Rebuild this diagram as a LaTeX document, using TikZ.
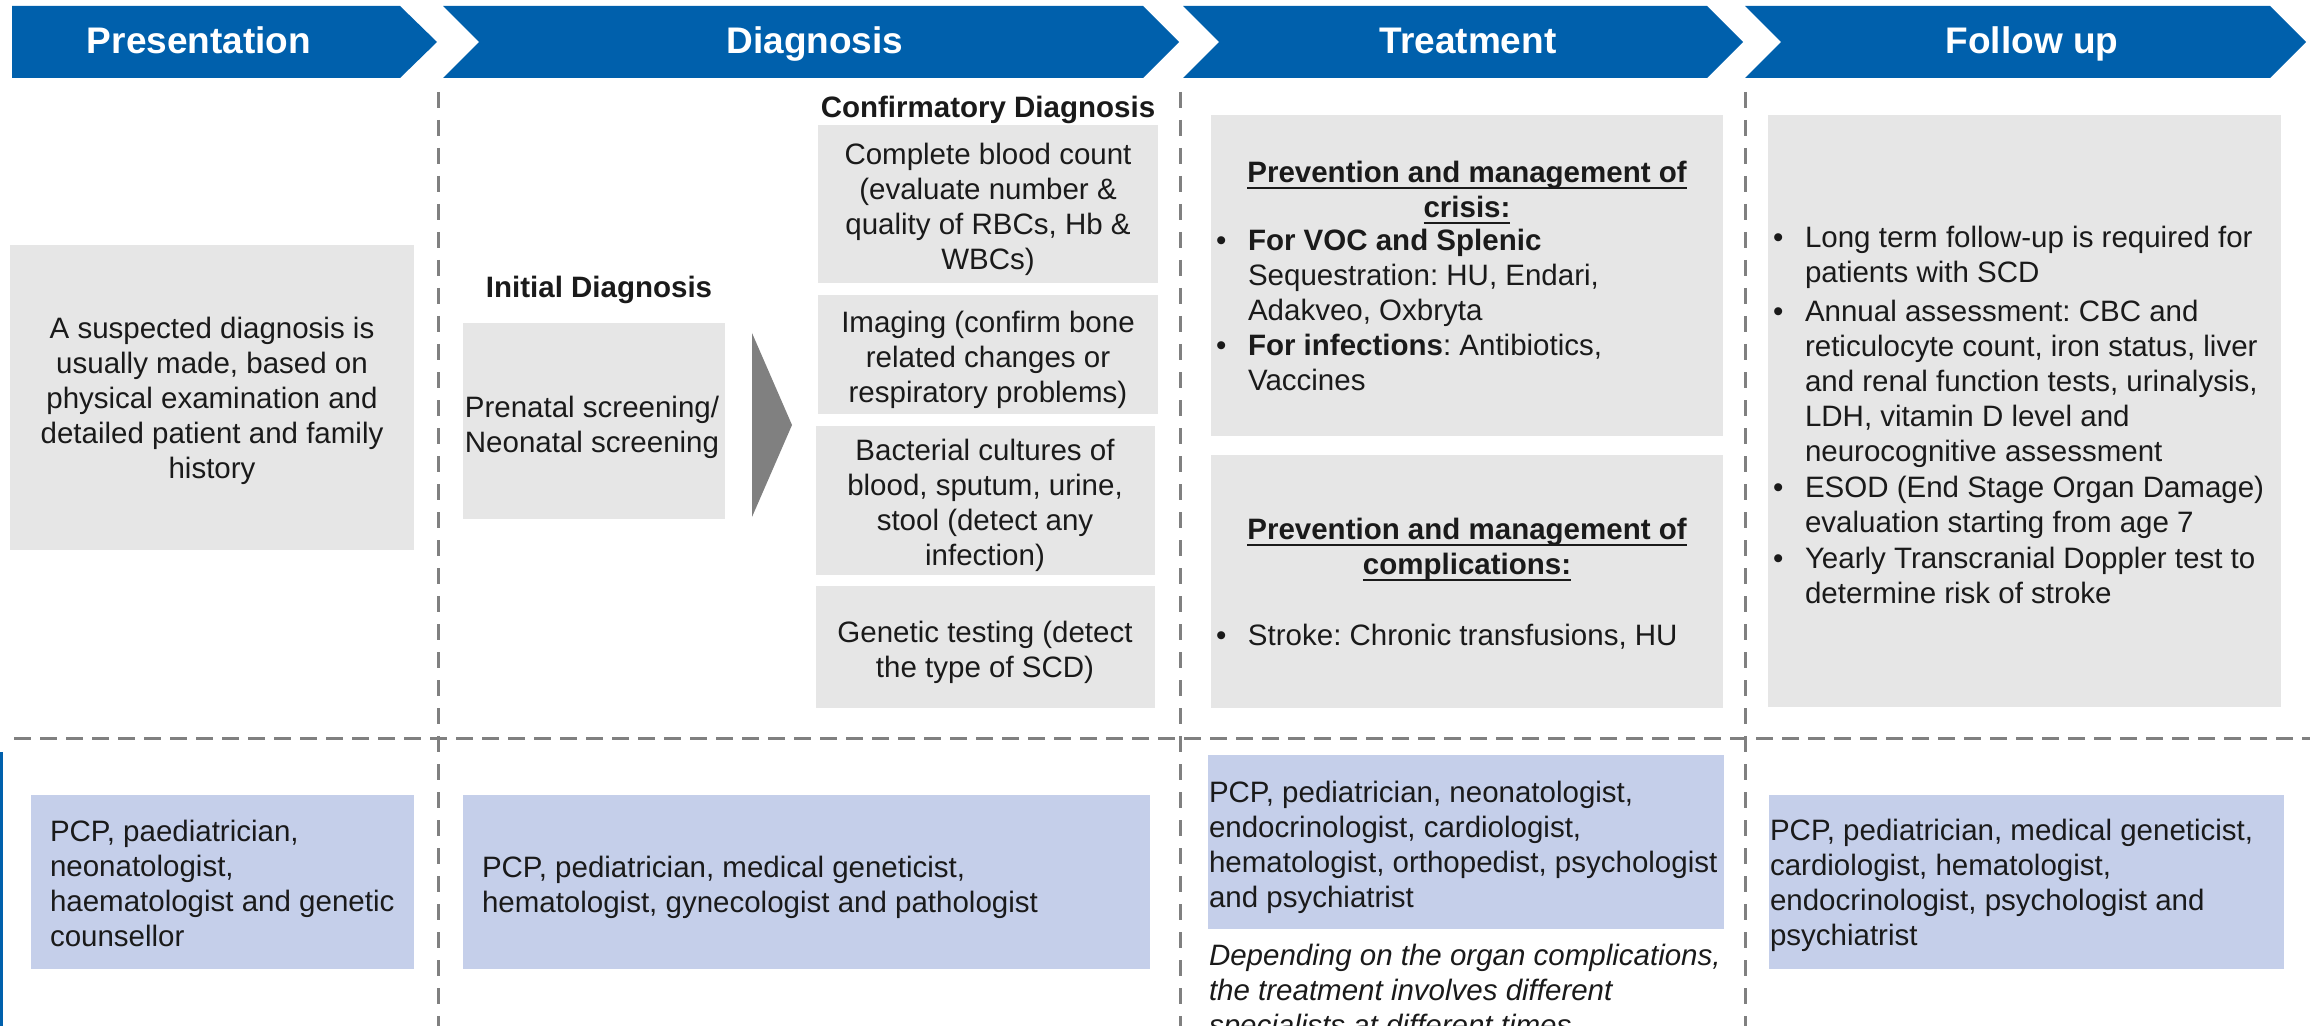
\documentclass[tikz,border=0pt]{standalone}
\usepackage{fontspec}
\setmainfont{Liberation Sans}
\usetikzlibrary{fit}
\definecolor{hblue}{HTML}{0060AC}
\definecolor{boxgray}{HTML}{E6E6E6}
\definecolor{boxblue}{HTML}{C5CFEA}
\definecolor{dashgray}{HTML}{808080}
\definecolor{arrowgray}{HTML}{808080}
\definecolor{txtc}{HTML}{1A1A1A}
\newcommand\myBody{\fontsize{14.75}{17.5}\selectfont}
\newcommand\myHdr{\fontsize{18.5}{22}\selectfont\bfseries}
\newlength\myulw
\newcommand\myul[1]{\settowidth\myulw{#1}\rlap{\rule[-3.3pt]{\myulw}{1.1pt}}#1}
\frenchspacing
\begin{document}
\frenchspacing
\begin{tikzpicture}[x=0.5pt,y=-0.5pt,
  every node/.style={inner sep=0pt, outer sep=0pt},
  chev/.style={fill=hblue},
  hdr/.style={text=white, font=\myHdr, anchor=base},
  gbox/.style={fill=boxgray, draw=none, inner sep=0pt},
  bbox/.style={fill=boxblue, draw=none, inner sep=0pt},
  txt/.style={font=\myBody, text=txtc, align=center, anchor=north},
  ltxt/.style={font=\myBody, text=txtc, align=left, anchor=north west},
  vdash/.style={draw=dashgray, line width=1.5pt, dash pattern=on 8pt off 6pt},
  hdash/.style={draw=dashgray, line width=1.5pt, dash pattern=on 8.5pt off 4.5pt}]
\useasboundingbox (0,0) rectangle (2310,1026);

% chevrons
\fill[chev] (12,6) -- (400,6) -- (437,42) -- (400,78) -- (12,78) -- cycle;
\fill[chev] (443,6) -- (1143,6) -- (1179,42) -- (1143,78) -- (443,78) -- (479,42) -- cycle;
\fill[chev] (1183,6) -- (1707,6) -- (1743,42) -- (1707,78) -- (1183,78) -- (1219,42) -- cycle;
\fill[chev] (1745,6) -- (2270,6) -- (2306,42) -- (2270,78) -- (1745,78) -- (1781,42) -- cycle;
\node[hdr] (h1) at (199,54) {Presentation};
\node[hdr] (h2) at (815,54) {Diagnosis};
\node[hdr] (h3) at (1468,54) {Treatment};
\node[hdr] (h4) at (2032,54) {Follow up};

% separators
\draw[vdash] (438,92) -- (438,1026);
\draw[vdash] (1180,92) -- (1180,1026);
\draw[vdash] (1745,92) -- (1745,1026);
\draw[hdash] (14,738) -- (2310,738);
\draw[hblue, line width=1.5pt] (1.5,752) -- (1.5,1026);

% presentation
\node[gbox, fit={(10,245) (414,550)}] (pbox) {};
\node[txt] (ptxt) at (212,317) {A suspected diagnosis is\\usually made, based on\\physical examination and\\detailed patient and family\\history};

% diagnosis
\node[txt, font=\myBody\bfseries] (initlab) at (599,276) {Initial Diagnosis};
\node[gbox, fit={(463,323) (725,519)}] (prenat) {};
\node[txt] (prenattxt) at (592,396) {Prenatal screening/\\Neonatal screening};
\fill[arrowgray] (752,333) -- (792,425) -- (752,517) -- cycle;

\node[txt, font=\myBody\bfseries] (conflab) at (988,96) {Confirmatory Diagnosis};
\node[gbox, fit={(818,125) (1158,283)}] (c1) {};
\node[gbox, fit={(818,295) (1158,414)}] (c2) {};
\node[gbox, fit={(816,426) (1155,575)}] (c3) {};
\node[gbox, fit={(816,586) (1155,708)}] (c4) {};
\node[txt] (c1t) at (988,143) {Complete blood count\\(evaluate number \&\\quality of RBCs, Hb \&\\WBCs)};
\node[txt] (c2t) at (988,311) {Imaging (confirm bone\\related changes or\\respiratory problems)};
\node[txt] (c3t) at (985,439) {Bacterial cultures of\\blood, sputum, urine,\\stool (detect any\\infection)};
\node[txt] (c4t) at (985,621) {Genetic testing (detect\\the type of SCD)};

% treatment
\node[gbox, fit={(1211,115) (1723,436)}] (t1) {};
\node[gbox, fit={(1211,455) (1723,708)}] (t2) {};
\node[txt, font=\myBody\bfseries] (t1h) at (1467,161) {\myul{Prevention and management of}\\\myul{crisis:}};
\node[ltxt] (t1b) at (1216,229) {\makebox[16pt][l]{•}\textbf{For VOC and Splenic}\\
\hspace*{16pt}Sequestration: HU, Endari,\\
\hspace*{16pt}Adakveo, Oxbryta\\
\makebox[16pt][l]{•}\textbf{For infections}: Antibiotics,\\
\hspace*{16pt}Vaccines};
\node[txt, font=\myBody\bfseries] (t2h) at (1467,518) {\myul{Prevention and management of}\\\myul{complications:}};
\node[ltxt] (t2b) at (1216,624) {\makebox[16pt][l]{•}Stroke: Chronic transfusions, HU};

% follow up
\node[gbox, fit={(1768,115) (2281,707)}] (fbox) {};
\node[ltxt] (fb) at (1773,226) {\makebox[16pt][l]{•}Long term follow-up is required for\\
\hspace*{16pt}patients with SCD\\[2pt]
\makebox[16pt][l]{•}Annual assessment: CBC and\\
\hspace*{16pt}reticulocyte count, iron status, liver\\
\hspace*{16pt}and renal function tests, urinalysis,\\
\hspace*{16pt}LDH, vitamin D level and\\
\hspace*{16pt}neurocognitive assessment\\[0.5pt]
\makebox[16pt][l]{•}ESOD (End Stage Organ Damage)\\
\hspace*{16pt}evaluation starting from age 7\\[0.5pt]
\makebox[16pt][l]{•}Yearly Transcranial Doppler test to\\
\hspace*{16pt}determine risk of stroke};

% bottom row
\node[bbox, fit={(31,795) (414,969)}] (b1) {};
\node[bbox, fit={(463,795) (1150,969)}] (b2) {};
\node[bbox, fit={(1208,755) (1724,929)}] (b3) {};
\node[bbox, fit={(1769,795) (2284,969)}] (b4) {};
\node[ltxt] (b1t) at (50,820) {PCP, paediatrician,\\neonatologist,\\haematologist and genetic\\counsellor};
\node[ltxt] (b2t) at (482,856) {PCP, pediatrician, medical geneticist,\\hematologist, gynecologist and pathologist};
\node[ltxt] (b3t) at (1209,781) {PCP, pediatrician, neonatologist,\\endocrinologist, cardiologist,\\hematologist, orthopedist, psychologist\\and psychiatrist};
\node[ltxt] (b4t) at (1770,819) {PCP, pediatrician, medical geneticist,\\cardiologist, hematologist,\\endocrinologist, psychologist and\\psychiatrist};
\node[ltxt, font=\myBody\itshape] (b3n) at (1209,944) {Depending on the organ complications,\\the treatment involves different\\specialists at different times};
\end{tikzpicture}
\end{document}
